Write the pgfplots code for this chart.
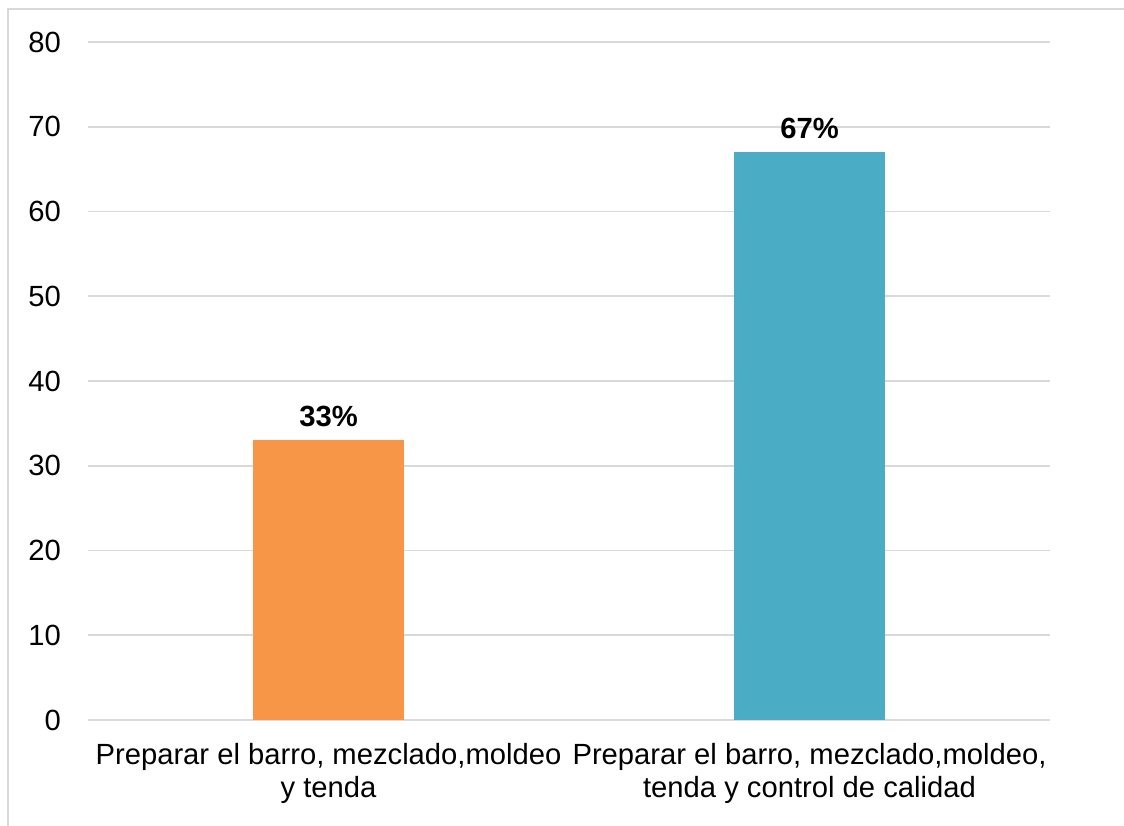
\documentclass[border=0pt]{standalone}
\usepackage{pgfplots}
\pgfplotsset{compat=1.18}
\usepackage{fontspec}
\setmainfont{Liberation Sans}
\definecolor{gridgray}{HTML}{D9D9D9}
\definecolor{framegray}{HTML}{D9D9D9}
\definecolor{barorange}{HTML}{F79646}
\definecolor{barblue}{HTML}{4BACC6}
\begin{document}
\begin{tikzpicture}
\useasboundingbox (0,0) rectangle (562pt,412.5pt);
\draw[framegray, line width=0.9pt] (4pt,-2pt) -- (4pt,408pt) -- (565pt,408pt);
\begin{axis}[
  at={(44pt,52.5pt)}, anchor=south west,
  scale only axis, width=481pt, height=339pt,
  xmin=-0.5, xmax=1.5, ymin=0, ymax=80,
  ytick distance=10,
  xtick={0,1},
  xticklabels={{Preparar el barro, mezclado,moldeo\\y tenda},{Preparar el barro, mezclado,moldeo,\\tenda y control de calidad}},
  xticklabel style={align=center, font=\fontsize{14.6}{16.6}\selectfont, yshift=-8pt},
  yticklabel style={font=\fontsize{14.6}{16.6}\selectfont, xshift=-10pt},
  /pgf/number format/assume math mode=true,
  major tick length=0pt,
  axis line style={draw=none},
  ymajorgrids, grid style={gridgray, line width=0.9pt},
  bar width=75.5pt,
  nodes near coords={\pgfmathprintnumber{\pgfplotspointmeta}\%},
  nodes near coords style={font=\fontsize{14.6}{16.6}\selectfont\bfseries, yshift=3pt},
  clip=false,
]
\addplot[ybar, bar shift=0pt, fill=barorange, draw=none] coordinates {(0,33)};
\addplot[ybar, bar shift=0pt, fill=barblue, draw=none] coordinates {(1,67)};
\end{axis}
\end{tikzpicture}
\end{document}
